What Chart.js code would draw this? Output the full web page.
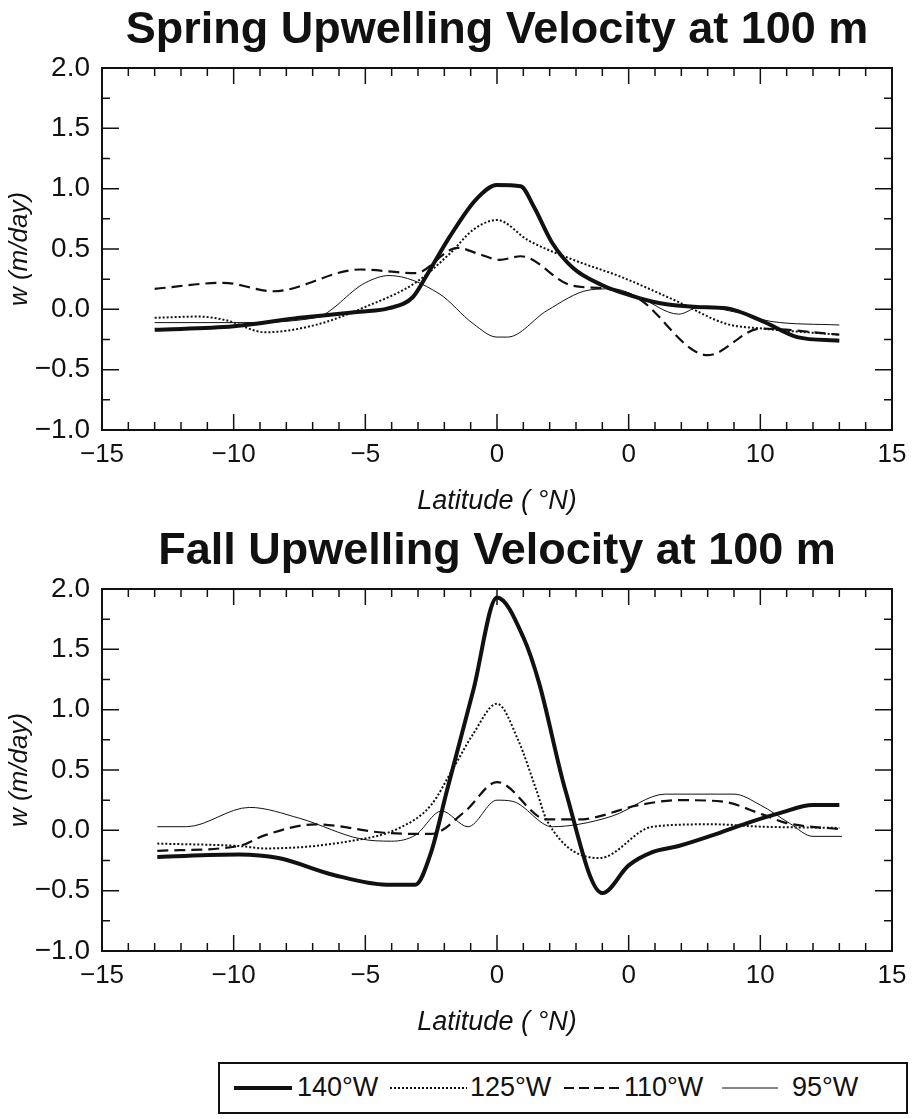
<!DOCTYPE html>
<html>
<head>
<meta charset="utf-8">
<script src="https://cdn.jsdelivr.net/npm/chart.js@4"></script>
<style>
  body { margin: 0; background: #fff; width: 913px; height: 1119px; position: relative; overflow: hidden; }
  canvas { position: absolute; left: 0; }
  #legend { position: absolute; left: 218px; top: 1062px; width: 686px; height: 48px; border: 2px solid #111;
            font-family: 'Liberation Sans', Arial, sans-serif; font-size: 27px; color: #111; }
  #legend svg, #legend span { position: absolute; }
  #legend svg { top: 19px; }
  #legend span { top: 8px; }
</style>
</head>
<body>
<canvas id="spring" width="913" height="525" style="top:0"></canvas>
<canvas id="fall" width="913" height="525" style="top:521px"></canvas>
<div id="legend">
  <svg style="left:14px" width="58" height="10"><line x1="0" y1="5" x2="58" y2="5" stroke="#111" stroke-width="4"/></svg>
  <span style="left:77px">140°W</span>
  <svg style="left:170px" width="77" height="10"><line x1="0" y1="5" x2="77" y2="5" stroke="#111" stroke-width="2" stroke-dasharray="2 2"/></svg>
  <span style="left:250px">125°W</span>
  <svg style="left:344px" width="56" height="10"><line x1="0" y1="5" x2="56" y2="5" stroke="#111" stroke-width="2" stroke-dasharray="10 5"/></svg>
  <span style="left:404px">110°W</span>
  <svg style="left:502px" width="56" height="10"><line x1="0" y1="5" x2="56" y2="5" stroke="#111" stroke-width="1"/></svg>
  <span style="left:572px">95°W</span>
</div>
<script>
// axis labels
var xTickLabels = ['\u221215', '\u221210', '\u22125', '0', '0', '10', '15'];
var seriesNames = ['140°W', '125°W', '110°W', '95°W'];

// spring
var sLat140 = [-13, -10, -7.5, -5.2, -4.1, -3.2, -2.7, -1.8, -0.8, 0, 0.9, 1.4, 2.1, 2.9, 4, 5, 6.2, 7.6, 8.7, 10.1, 11.4, 13];
var sW140 = [-0.17, -0.14, -0.07, -0.02, 0.01, 0.10, 0.27, 0.60, 0.91, 1.03, 1.02, 0.85, 0.55, 0.34, 0.20, 0.12, 0.05, 0.02, 0.01, -0.10, -0.23, -0.26];
var sLat125 = [-13, -11.3, -10.3, -8.8, -6.9, -5, -3.1, -1.8, -0.9, 0, 1.2, 2.9, 4.7, 6.9, 8.7, 10.1, 13];
var sW125 = [-0.07, -0.06, -0.09, -0.19, -0.13, 0.02, 0.22, 0.46, 0.66, 0.74, 0.57, 0.41, 0.27, 0.06, -0.12, -0.16, -0.21];
var sLat110 = [-13, -10.4, -8.5, -5.2, -3.1, -1.5, -0.7, 0.1, 0.9, 2.8, 4.2, 5.3, 8, 10, 13];
var sW110 = [0.17, 0.22, 0.15, 0.33, 0.30, 0.51, 0.46, 0.41, 0.44, 0.20, 0.17, 0.10, -0.38, -0.16, -0.21];
var sLat95 = [-13, -10, -6.9, -5, -4.1, -2.2, -0.9, 0, 0.4, 1.9, 3.5, 4.4, 5.4, 6.9, 7.7, 9.2, 10.4, 13];
var sW95 = [-0.11, -0.11, -0.07, 0.22, 0.28, 0.13, -0.12, -0.23, -0.23, -0.01, 0.16, 0.17, 0.10, -0.04, 0.02, -0.03, -0.10, -0.13];

// fall
var fLat140 = [-12.9, -9.8, -8.3, -6.2, -4.2, -3.1, -2.5, -1.9, -0.9, 0, 1.0, 1.6, 2.6, 4.0, 5.0, 5.9, 6.9, 8.2, 9.5, 10.7, 12, 13];
var fW140 = [-0.22, -0.20, -0.23, -0.37, -0.45, -0.45, -0.18, 0.33, 1.16, 1.93, 1.60, 1.22, 0.33, -0.52, -0.29, -0.18, -0.13, -0.04, 0.06, 0.14, 0.21, 0.21];
var fLat125 = [-12.9, -9.8, -8.8, -5.6, -3.7, -2.5, -1.7, -0.9, 0, 0.8, 1.5, 1.9, 3.9, 5.9, 8.2, 10.1, 13];
var fW125 = [-0.11, -0.13, -0.15, -0.09, 0.02, 0.21, 0.50, 0.80, 1.05, 0.75, 0.33, 0.08, -0.23, 0.03, 0.05, 0.03, 0.02];
var fLat110 = [-12.9, -9.8, -8.8, -6.9, -4.3, -2.5, -1.2, 0, 1.9, 3.1, 5.4, 6.9, 8.5, 10.1, 11, 13];
var fW110 = [-0.17, -0.13, -0.04, 0.05, -0.02, -0.03, 0.16, 0.40, 0.09, 0.09, 0.21, 0.25, 0.24, 0.13, 0.06, 0.01];
var fLat95 = [-12.9, -11.8, -9.4, -7.5, -5.2, -4, -3.1, -2.1, -1.1, 0, 0.6, 2.1, 3.1, 4.4, 6.4, 9, 10, 11.1, 12, 13.1];
var fW95 = [0.03, 0.03, 0.19, 0.10, -0.07, -0.09, -0.04, 0.16, 0.03, 0.25, 0.24, 0.03, 0.05, 0.12, 0.30, 0.30, 0.21, 0.06, -0.05, -0.05];

var FONT = "'Liberation Sans', Arial, sans-serif";
var INK = '#111';

// line looks: 140 thick, 125 dotted, 110 dashed, 95 thin
var lineStyles = [
  { borderWidth: 4, borderDash: [] },
  { borderWidth: 2, borderDash: [2, 2] },
  { borderWidth: 2.2, borderDash: [11, 6] },
  { borderWidth: 1, borderDash: [] }
];

function toPoints(lat, w) {
  var pts = [];
  for (var i = 0; i < lat.length; i++) pts.push({ x: lat[i], y: w[i] });
  return pts;
}

// box + inward ticks on all four sides
var frameTicks = {
  id: 'frameTicks',
  afterDatasetsDraw: function (chart) {
    var ctx = chart.ctx, a = chart.chartArea;
    var xs = chart.scales.x, ys = chart.scales.y;
    ctx.save();
    ctx.strokeStyle = INK;
    ctx.lineWidth = 1.5;
    ctx.beginPath();
    for (var v = -14; v <= 14; v++) {
      var px = xs.getPixelForValue(v);
      var len = v % 5 === 0 ? 16 : 8;
      ctx.moveTo(px, a.bottom); ctx.lineTo(px, a.bottom - len);
      ctx.moveTo(px, a.top); ctx.lineTo(px, a.top + len);
    }
    for (var k = 1; k < 12; k++) {
      var py = ys.getPixelForValue(-1 + k * 0.25);
      var l = k % 2 === 0 ? 17 : 8;
      ctx.moveTo(a.left, py); ctx.lineTo(a.left + l, py);
      ctx.moveTo(a.right, py); ctx.lineTo(a.right - l, py);
    }
    ctx.stroke();
    ctx.lineWidth = 2;
    ctx.strokeRect(a.left, a.top, a.right - a.left, a.bottom - a.top);
    ctx.restore();
  }
};

function makeChart(id, title, lats, ws) {
  var datasets = [];
  for (var i = 0; i < lats.length; i++) {
    datasets.push({
      label: seriesNames[i],
      data: toPoints(lats[i], ws[i]),
      borderColor: INK,
      borderWidth: lineStyles[i].borderWidth,
      borderDash: lineStyles[i].borderDash,
      pointRadius: 0,
      fill: false,
      cubicInterpolationMode: 'monotone'
    });
  }
  return new Chart(document.getElementById(id).getContext('2d'), {
    type: 'line',
    data: { datasets: datasets },
    options: {
      responsive: false,
      animation: false,
      layout: { padding: { left: 0, right: 21, top: 0, bottom: 0 } },
      plugins: {
        legend: { display: false },
        tooltip: { enabled: false },
        title: {
          display: true,
          fullSize: false,
          text: title,
          color: INK,
          font: { family: FONT, size: 45, weight: 'bold' },
          padding: { top: 4, bottom: 10 }
        }
      },
      scales: {
        x: {
          type: 'linear',
          min: -15,
          max: 15,
          grid: { display: false, drawTicks: false },
          border: { display: false },
          ticks: {
            stepSize: 5,
            autoSkip: false,
            maxRotation: 0,
            padding: 9,
            color: INK,
            font: { family: FONT, size: 26 },
            callback: function (value, index) { return xTickLabels[index]; }
          },
          title: {
            display: true,
            text: 'Latitude ( °N)',
            color: INK,
            font: { family: FONT, size: 27, style: 'italic' },
            padding: { top: 4, bottom: 7 }
          },
          afterFit: function (s) {
            s.height = 95;
            s.paddingRight = 0;
          }
        },
        y: {
          min: -1,
          max: 2,
          grid: { display: false, drawTicks: false },
          border: { display: false },
          ticks: {
            stepSize: 0.5,
            padding: 12,
            color: INK,
            font: { family: FONT, size: 28 },
            callback: function (value) { return (value < 0 ? '\u2212' : '') + Math.abs(value).toFixed(1); }
          },
          title: {
            display: true,
            text: 'w (m/day)',
            color: INK,
            font: { family: FONT, size: 26, style: 'italic' },
            padding: { top: 4 }
          },
          afterFit: function (s) {
            s.width = 102;
            s.paddingTop = 0;
            s.paddingBottom = 0;
          }
        }
      }
    },
    plugins: [frameTicks]
  });
}

makeChart('spring', 'Spring Upwelling Velocity at 100 m',
  [sLat140, sLat125, sLat110, sLat95], [sW140, sW125, sW110, sW95]);
makeChart('fall', 'Fall Upwelling Velocity at 100 m',
  [fLat140, fLat125, fLat110, fLat95], [fW140, fW125, fW110, fW95]);
</script>
</body>
</html>
